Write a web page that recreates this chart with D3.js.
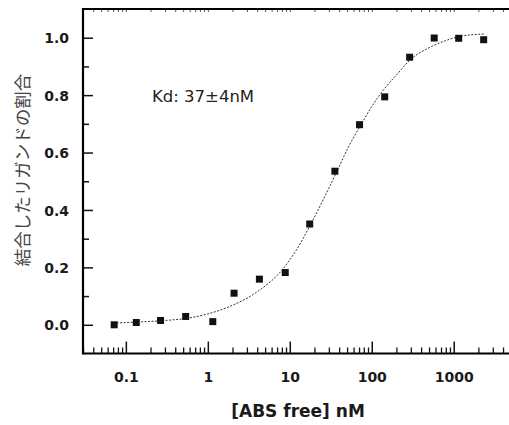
<!DOCTYPE html>
<html>
<head>
<meta charset="utf-8">
<script src="https://cdn.jsdelivr.net/npm/d3@7"></script>
<style>
html,body{margin:0;padding:0;background:#fff;}
svg{display:block;}
</style>
</head>
<body>
<svg id="chart" width="509" height="425"></svg>
<script>
// ---- data ----
const concentration = [0.072, 0.134, 0.265, 0.537, 1.15, 2.09, 4.26, 8.8, 17.5, 35.5, 71, 144, 290, 578, 1150, 2320];
const boundFraction = [0.000, 0.008, 0.015, 0.029, 0.011, 0.110, 0.159, 0.182, 0.351, 0.535, 0.697, 0.794, 0.932, 0.999, 0.998, 0.993];
const fitX = [0.07, 0.15, 0.3, 0.6, 1, 2, 4, 8, 12, 18, 25, 37, 50, 75, 100, 150, 200, 300, 500, 800, 1200, 2400];
const fitY = [0.006, 0.010, 0.015, 0.024, 0.038, 0.068, 0.115, 0.19, 0.26, 0.35, 0.43, 0.53, 0.61, 0.70, 0.76, 0.83, 0.87, 0.925, 0.965, 0.99, 1.005, 1.013];
const xTickValues = [0.1, 1, 10, 100, 1000];
const xTickLabels = ["0.1", "1", "10", "100", "1000"];
const yTickValues = [0.0, 0.2, 0.4, 0.6, 0.8, 1.0];
const yTickLabels = ["0.0", "0.2", "0.4", "0.6", "0.8", "1.0"];
const yMinorValues = [0.1, 0.3, 0.5, 0.7, 0.9];
const xLabel = "[ABS free] nM";
const yLabel = "結合したリガンドの割合";
const annotation = "Kd: 37±4nM";

// ---- layout ----
const pLeft = 83, pTop = 9, pBottom = 353.5, pRight = 511;
const svg = d3.select("#chart");
const x = d3.scaleLog().domain([0.03, 5000]).range([pLeft, pRight]);
const y = d3.scaleLinear().domain([-0.1, 1.1]).range([pBottom, pTop]);

// minor ticks for log axis
const xMinor = [];
for (let e = -2; e <= 3; e++) {
  for (let m = 2; m <= 9; m++) {
    const v = m * Math.pow(10, e);
    if (v >= 0.03 && v <= 5000) xMinor.push(v);
  }
}

const tickFont = "'DejaVu Sans', sans-serif";

// bottom axis (ticks inside)
svg.append("g").attr("transform", `translate(0,${pBottom})`)
  .call(d3.axisBottom(x).tickValues(xMinor).tickSize(-6).tickFormat(""))
  .call(g => g.select(".domain").remove())
  .call(g => g.selectAll("line").attr("stroke", "#111").attr("stroke-width", 1.3));
svg.append("g").attr("transform", `translate(0,${pBottom})`)
  .call(d3.axisBottom(x).tickValues(xTickValues).tickSize(-12).tickPadding(0)
    .tickFormat((d, i) => xTickLabels[i]))
  .call(g => g.select(".domain").remove())
  .call(g => g.selectAll("line").attr("stroke", "#111").attr("stroke-width", 1.5))
  .call(g => g.selectAll("text")
    .attr("y", 28.5).attr("dy", null)
    .attr("font-family", tickFont).attr("font-weight", "bold")
    .attr("font-size", 14).attr("fill", "#1a1a1a"));

// top axis (small inner ticks)
svg.append("g").attr("transform", `translate(0,${pTop})`)
  .call(d3.axisTop(x).tickValues(xMinor.concat(xTickValues)).tickSize(-3).tickFormat(""))
  .call(g => g.select(".domain").remove())
  .call(g => g.selectAll("line").attr("stroke", "#555").attr("stroke-width", 1));

// left axis
svg.append("g").attr("transform", `translate(${pLeft},0)`)
  .call(d3.axisLeft(y).tickValues(yMinorValues).tickSize(-6).tickFormat(""))
  .call(g => g.select(".domain").remove())
  .call(g => g.selectAll("line").attr("stroke", "#111").attr("stroke-width", 1.5));
svg.append("g").attr("transform", `translate(${pLeft},0)`)
  .call(d3.axisLeft(y).tickValues(yTickValues).tickSize(-10).tickPadding(0)
    .tickFormat((d, i) => yTickLabels[i]))
  .call(g => g.select(".domain").remove())
  .call(g => g.selectAll("line").attr("stroke", "#111").attr("stroke-width", 1.5))
  .call(g => g.selectAll("text")
    .attr("x", -14).attr("dy", "0.36em")
    .attr("font-family", tickFont).attr("font-weight", "bold")
    .attr("font-size", 14).attr("fill", "#1a1a1a"));

// frame lines
svg.append("line").attr("x1", pLeft).attr("x2", pRight).attr("y1", pTop).attr("y2", pTop)
  .attr("stroke", "#000").attr("stroke-width", 2.2);
svg.append("line").attr("x1", pLeft).attr("x2", pRight).attr("y1", pBottom).attr("y2", pBottom)
  .attr("stroke", "#000").attr("stroke-width", 2.2);
svg.append("line").attr("x1", pLeft).attr("x2", pLeft).attr("y1", pTop - 1).attr("y2", pBottom + 1)
  .attr("stroke", "#000").attr("stroke-width", 2.2);

// fit curve
const fitData = fitX.map((v, i) => [v, fitY[i]]);
svg.append("path")
  .datum(fitData)
  .attr("fill", "none")
  .attr("stroke", "#333")
  .attr("stroke-width", 1)
  .attr("stroke-dasharray", "2,1.5")
  .attr("d", d3.line().x(d => x(d[0])).y(d => y(d[1])).curve(d3.curveMonotoneX));

// data points
const pts = concentration.map((v, i) => [v, boundFraction[i]]);
const ms = 7;
svg.append("g").selectAll("rect").data(pts).join("rect")
  .attr("x", d => x(d[0]) - ms / 2)
  .attr("y", d => y(d[1]) - ms / 2)
  .attr("width", ms).attr("height", ms)
  .attr("fill", "#111");

// annotation
svg.append("text")
  .attr("x", 152).attr("y", 101.5)
  .attr("font-family", tickFont).attr("font-size", 16.5)
  .attr("fill", "#222")
  .text(annotation);

// axis titles
svg.append("text")
  .attr("x", 298).attr("y", 417)
  .attr("text-anchor", "middle")
  .attr("font-family", tickFont).attr("font-weight", "bold")
  .attr("font-size", 17).attr("fill", "#1a1a1a")
  .text(xLabel);

svg.append("text")
  .attr("transform", "translate(29,170) rotate(-90)")
  .attr("text-anchor", "middle")
  .attr("font-family", "'Noto Sans CJK JP', sans-serif")
  .attr("font-size", 17.5).attr("fill", "#444")
  .text(yLabel);
</script>
</body>
</html>
